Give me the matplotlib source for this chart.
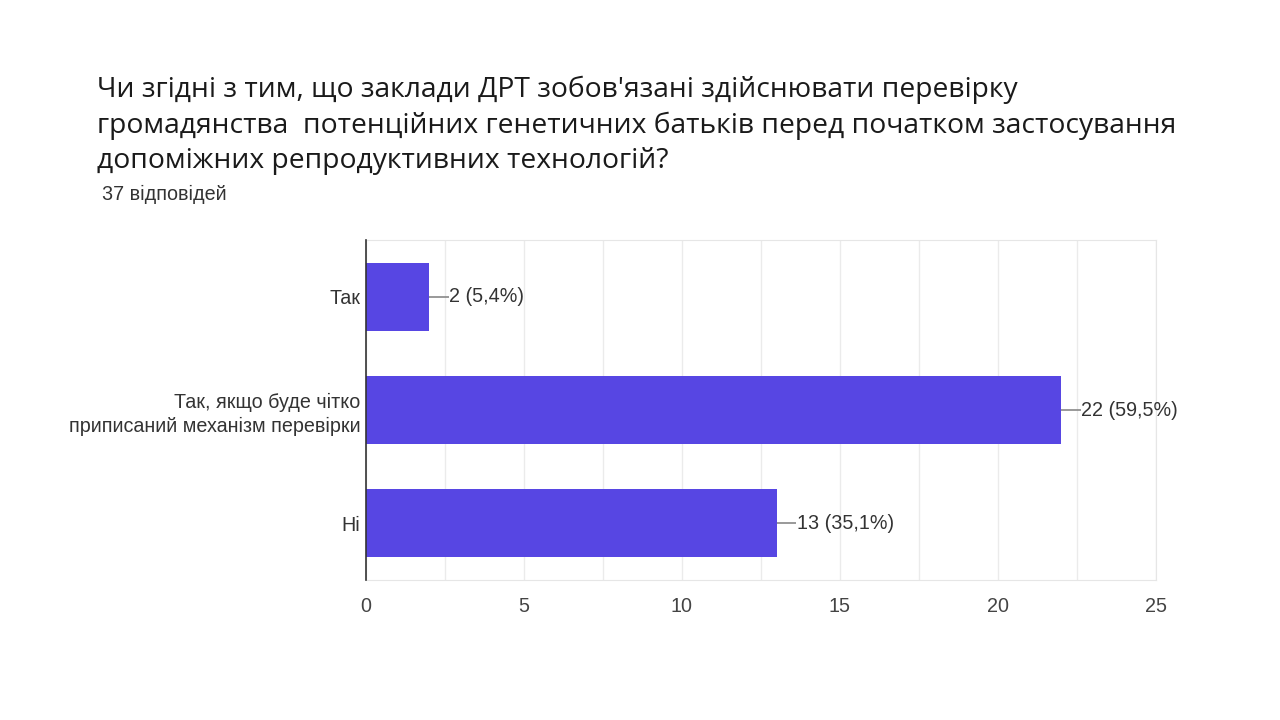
import matplotlib
matplotlib.use("Agg")
import matplotlib.pyplot as plt
import numpy as np

title = ("Чи згідні з тим, що заклади ДРТ зобов'язані здійснювати перевірку\n"
         "громадянства  потенційних генетичних батьків перед початком застосування\n"
         "допоміжних репродуктивних технологій?")
subtitle = "37 відповідей"
categories = ["Так", "Так, якщо буде чітко\nприписаний механізм перевірки", "Ні"]
values = [2, 22, 13]
labels = ["2 (5,4%)", "22 (59,5%)", "13 (35,1%)"]
xticks = [0, 5, 10, 15, 20, 25]

FONT = ["Liberation Sans", "DejaVu Sans"]
FS = 14.2

fig = plt.figure(figsize=(12.8, 7.2), dpi=100)
fig.patch.set_facecolor("white")

fig.text(97/1280, 1 - 76/720, title, ha="left", va="top", fontsize=20.3,
         family=["Open Sans", "DejaVu Sans"], color="#1a1a1a", linespacing=1.35)
fig.text(102/1280, 1 - 194/720, subtitle, ha="left", va="center", fontsize=FS,
         family=FONT, color="#333333")

ax = fig.add_axes([366/1280, 1 - 580/720, 790/1280, 340/720])
y = np.arange(len(categories))
ax.barh(y, values, height=0.6, color="#5746E3", zorder=3)
ax.set_ylim(len(categories) - 0.5, -0.5)
ax.set_xlim(0, 25)
ax.set_xticks(xticks)
ax.set_xticks(np.arange(0, 25.01, 2.5), minor=True)
ax.grid(axis="x", which="both", color="#ebebeb", linewidth=1, zorder=0)
ax.set_yticks(y)
ax.set_yticklabels(categories, family=FONT, fontsize=FS,
                   color="#333333", ha="right", multialignment="right", linespacing=1.35)
ax.tick_params(axis="y", length=0, pad=4)
ax.tick_params(axis="x", which="both", length=0, pad=12, labelsize=FS, labelcolor="#444444")
for lbl in ax.get_xticklabels():
    lbl.set_family(FONT)
for s in ["top", "right", "bottom"]:
    ax.spines[s].set_color("#e6e6e6")
ax.spines["left"].set_color("#333333")
ax.spines["left"].set_linewidth(1.2)
ax.spines["left"].set_zorder(4)

for yi, v, t in zip(y, values, labels):
    ax.plot([v, v + 0.62], [yi, yi], color="#888888", linewidth=1.2, zorder=4, solid_capstyle="butt")
    ax.text(v + 0.64, yi, t, va="center", ha="left", fontsize=FS,
            family=FONT, color="#333333", zorder=5)

fig.savefig("out.png", dpi=100, facecolor="white")
